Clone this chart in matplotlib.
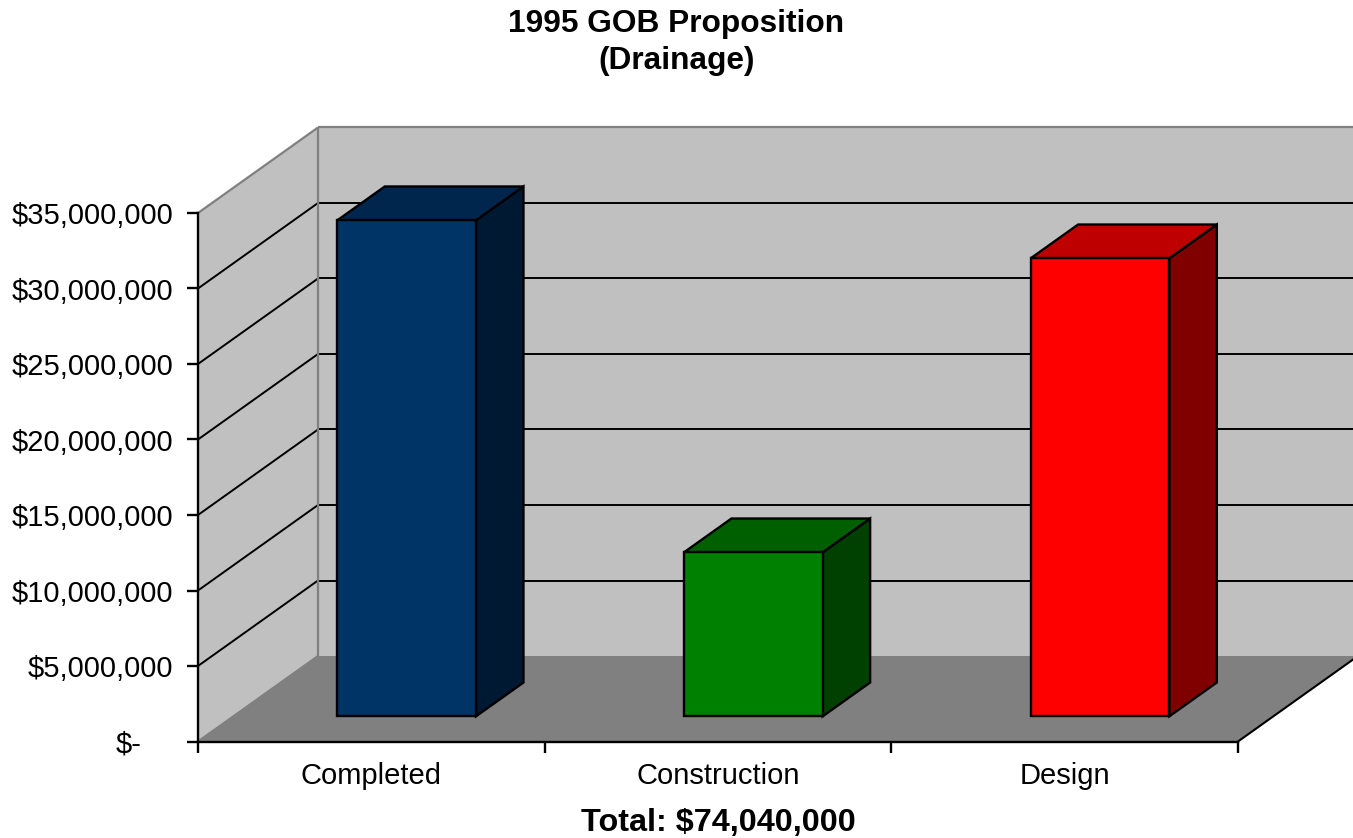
import matplotlib
matplotlib.use("Agg")
import matplotlib.pyplot as plt
from matplotlib.patches import Polygon
from matplotlib.ticker import FixedLocator, FixedFormatter

plt.rcParams['font.family'] = ['Liberation Sans', 'DejaVu Sans']

categories = ["Completed", "Construction", "Design"]
values = [32_850_000, 10_860_000, 30_330_000]
front_colors = ["#003366", "#008000", "#FF0000"]
top_colors = ["#00264D", "#006000", "#BF0000"]
side_colors = ["#001933", "#004000", "#800000"]
y_ticks = [0, 5e6, 10e6, 15e6, 20e6, 25e6, 30e6, 35e6]
y_labels = ["$-", "$5,000,000", "$10,000,000", "$15,000,000", "$20,000,000",
            "$25,000,000", "$30,000,000", "$35,000,000"]
title = "1995 GOB Proposition\n(Drainage)"
total_label = "Total: $74,040,000"

W, H = 1353, 838
ymax = y_ticks[-1]
fig = plt.figure(figsize=(W / 100, H / 100), dpi=100, facecolor="white")
ax = fig.add_axes([198 / W, (H - 741.5) / H, (1238 - 198) / W, (741.5 - 213) / H])
ax.set_xlim(0, len(categories))
ax.set_ylim(0, ymax)
ax.set_facecolor("none")

# oblique depth: data units moved per unit of depth
sx = 120 / (1040 / len(categories))
sy = 85.5 / (528.5 / ymax)


def P(x, y, d=0.0):
    return (x + sx * d, y + sy * d)


def poly(points, fc, ec="none", lw=0.0, z=1):
    ax.add_patch(Polygon(points, closed=True, facecolor=fc, edgecolor=ec, linewidth=lw,
                         joinstyle="miter", clip_on=False, zorder=z))


n = len(categories)
WALL, FLOOR, EDGE = "#C0C0C0", "#808080", "#808080"
poly([P(0, 0, 1), P(n, 0, 1), P(n, ymax, 1), P(0, ymax, 1)], WALL, z=1)
poly([P(0, 0, 0), P(0, 0, 1), P(0, ymax, 1), P(0, ymax, 0)], WALL, z=1)
poly([P(0, 0, 0), P(n, 0, 0), P(n, 0, 1), P(0, 0, 1)], FLOOR, z=1)


def seg(a, b, c, lw, z=2):
    ax.plot([a[0], b[0]], [a[1], b[1]], color=c, lw=lw, clip_on=False, zorder=z,
            solid_capstyle="butt")


for t in y_ticks[1:-1]:
    seg(P(0, t, 0), P(0, t, 1), "black", 1.4)
    seg(P(0, t, 1), P(n, t, 1), "black", 1.4)
seg(P(0, ymax, 0), P(0, ymax, 1), EDGE, 1.6)
seg(P(0, ymax, 1), P(n, ymax, 1), EDGE, 1.6)
seg(P(0, 0, 1), P(0, ymax, 1), EDGE, 1.6)
seg(P(0, 0, 0), P(0, 0, 1), EDGE, 1.6)
seg(P(n, 0, 0), P(n, 0, 1), "black", 1.5)

# bars
bw, d0, d1 = 0.4, 0.295, 0.69
for i, v in enumerate(values):
    x0, x1 = i + 0.5 - bw / 2, i + 0.5 + bw / 2
    kw = dict(ec="black", lw=1.7, z=4)
    poly([P(x1, 0, d0), P(x1, 0, d1), P(x1, v, d1), P(x1, v, d0)], side_colors[i], **kw)
    poly([P(x0, v, d0), P(x1, v, d0), P(x1, v, d1), P(x0, v, d1)], top_colors[i], **kw)
    poly([P(x0, 0, d0), P(x1, 0, d0), P(x1, v, d0), P(x0, v, d0)], front_colors[i], **kw)

# axes
for s in ("top", "right"):
    ax.spines[s].set_visible(False)
for s in ("left", "bottom"):
    ax.spines[s].set_linewidth(1.7)
    ax.spines[s].set_zorder(3)

ax.yaxis.set_major_locator(FixedLocator(y_ticks))
ax.yaxis.set_major_formatter(FixedFormatter(y_labels))
ax.tick_params(axis="y", which="major", length=8, width=1.7, pad=10, labelsize=21)
ax.yaxis.get_major_ticks()[0].set_pad(33)

ax.xaxis.set_major_locator(FixedLocator(list(range(n + 1))))
ax.xaxis.set_major_formatter(FixedFormatter([""] * (n + 1)))
ax.xaxis.set_minor_locator(FixedLocator([i + 0.5 for i in range(n)]))
ax.xaxis.set_minor_formatter(FixedFormatter(categories))
ax.tick_params(axis="x", which="major", length=8, width=1.7)
ax.tick_params(axis="x", which="minor", length=0, pad=15, labelsize=21)

ax.set_xlabel(total_label, fontsize=23.3, fontweight="bold", labelpad=13)
fig.text(0.5, (H - 9) / H, title, ha="center", va="top", fontsize=22.8, fontweight="bold",
         linespacing=1.3)

fig.savefig("out.png", dpi=100)
